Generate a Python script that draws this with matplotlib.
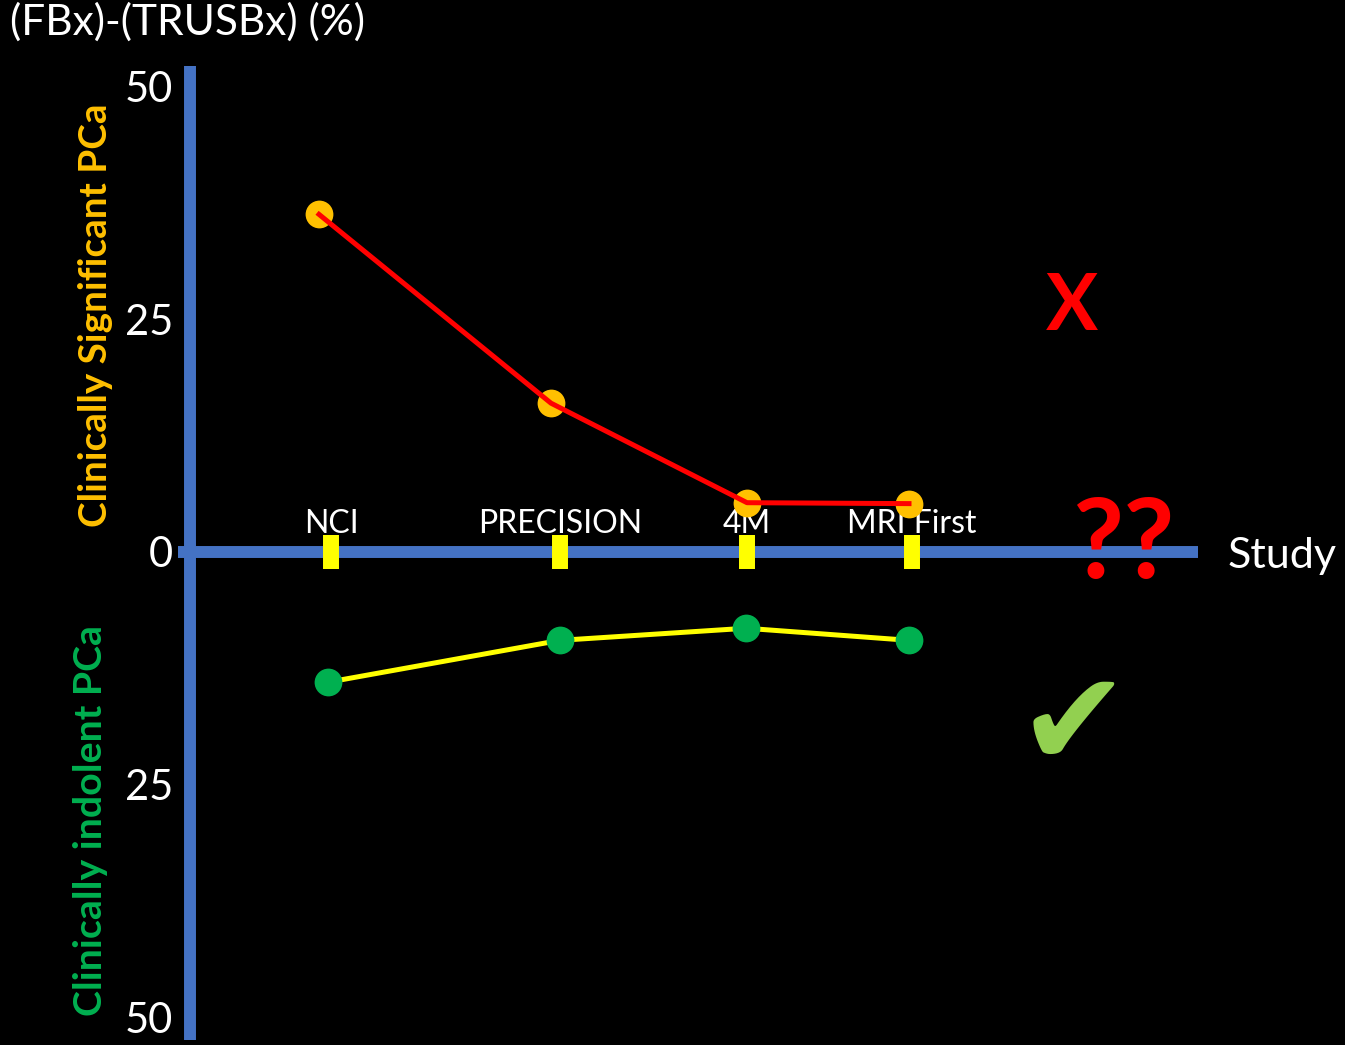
import matplotlib
matplotlib.use("Agg")
import matplotlib.pyplot as plt

# Studies along the horizontal axis and their positions on it
studies = ["NCI", "PRECISION", "4M", "MRI First"]
study_x = [1.41, 3.70, 5.57, 7.22]

# Difference in detection rate (FBx minus TRUSBx), percent
significant_x = [1.29, 3.61, 5.57, 7.19]
significant_diff = [36.3, 16.0, 5.3, 5.2]
indolent_x = [1.38, 3.70, 5.56, 7.19]
indolent_diff = [-14.0, -9.5, -8.2, -9.5]

y_ticks = [-50, -25, 0, 25, 50]
y_tick_labels = ["50", "25", "0", "25", "50"]

BLUE = "#4472C4"
ORANGE = "#FFC000"
GREEN = "#00B050"
RED = "#FF0000"
YELLOW = "#FFFF00"
LIGHT_GREEN = "#92D050"
FONT = "Lato"

plt.rcParams["font.family"] = [FONT, "DejaVu Sans"]

fig = plt.figure(figsize=(13.45, 10.45), dpi=100, facecolor="black")
ax = fig.add_axes([0, 0, 1, 1], facecolor="black")
ax.set_xlim(-1.9, 11.55)
ax.set_ylim(-53.01, 59.35)
ax.set_axisbelow(False)

# Axis lines
for side in ("bottom", "right"):
    ax.spines[side].set_visible(False)
ax.spines["left"].set_position(("data", 0))
ax.spines["left"].set_bounds(-52.5, 52.3)
ax.spines["top"].set_position(("data", 0))
ax.spines["top"].set_bounds(-0.12, 10.08)
for side in ("left", "top"):
    ax.spines[side].set_color(BLUE)
    ax.spines[side].set_linewidth(8.6)
    ax.spines[side].set_capstyle("butt")
    ax.spines[side].set_zorder(1)

# Y ticks: magnitudes on both sides of zero
ax.set_yticks(y_ticks)
ax.set_yticklabels(y_tick_labels)
ax.tick_params(axis="y", length=0, pad=12, labelsize=30, labelcolor="white")

# Study ticks as yellow bars across the axis, names above
ax.xaxis.set_ticks_position("top")
ax.set_xticks(study_x)
ax.set_xticklabels(studies)
ax.tick_params(axis="x", direction="inout", length=24.5, width=11.5,
               color=YELLOW, pad=-3, labelsize=23, labelcolor="white")

# Clinically significant cancer: orange points joined by a red line
ax.plot(significant_x, significant_diff, "o", color=ORANGE, markersize=20,
        markeredgewidth=0, zorder=3)
ax.plot(significant_x, significant_diff, "-", color=RED, linewidth=3.6,
        zorder=4)

# Clinically indolent cancer: green points joined by a yellow line
ax.plot(indolent_x, indolent_diff, "-", color=YELLOW, linewidth=3.6, zorder=3)
ax.plot(indolent_x, indolent_diff, "o", color=GREEN, markersize=20,
        markeredgewidth=0, zorder=4)

# Titles
fig.text(10 / 1345, 1 - 35 / 1045, "(FBx)-(TRUSBx) (%)", color="white",
         fontsize=30.5, ha="left", va="baseline")
fig.text(1228 / 1345, 1 - 568 / 1045, "Study", color="white",
         fontsize=31, ha="left", va="baseline")
fig.text(107 / 1345, 1 - 315 / 1045, "Clinically Significant PCa",
         color=ORANGE, fontsize=27.8, fontweight="bold", rotation=90,
         rotation_mode="anchor", ha="center", va="baseline")
fig.text(102 / 1345, 1 - 821 / 1045, "Clinically indolent PCa",
         color=GREEN, fontsize=28.3, fontweight="bold", rotation=90,
         rotation_mode="anchor", ha="center", va="baseline")

# Verdict symbols
fig.text(1072 / 1345, 1 - 330 / 1045, "X", color=RED, fontsize=56,
         fontweight="bold", ha="center", va="baseline")
fig.text(1124 / 1345, 1 - 578 / 1045, "??", color=RED, fontsize=80,
         fontweight="bold", ha="center", va="baseline")
fig.text(1073 / 1345, 1 - 729 / 1045, "\u2714", color=LIGHT_GREEN,
         fontsize=96, family="DejaVu Sans", ha="center", va="center")

fig.savefig("out.png", dpi=100, facecolor="black")
